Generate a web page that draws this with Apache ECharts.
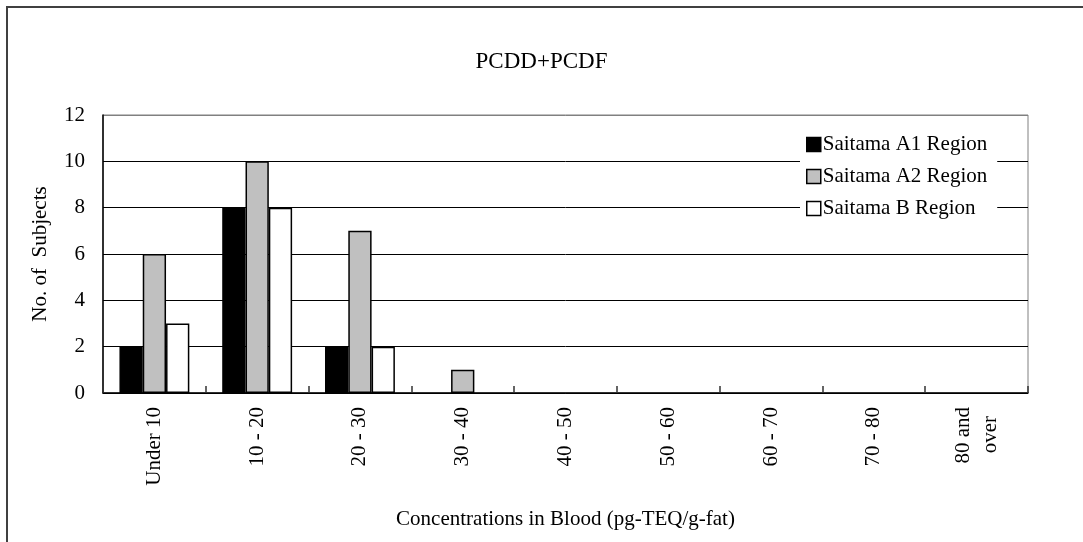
<!DOCTYPE html>
<html><head><meta charset="utf-8">
<script src="https://cdn.jsdelivr.net/npm/echarts@6/dist/echarts.min.js"></script>
<style>html,body{margin:0;padding:0;background:#fff;}#c{width:1083px;height:542px;}</style>
</head><body><div id="c"></div>
<script>
const categories = ['Under 10', '10 - 20', '20 - 30', '30 - 40', '40 - 50', '50 - 60', '60 - 70', '70 - 80', '80 and\nover'];
const seriesNames = ['Saitama A1 Region', 'Saitama A2 Region', 'Saitama B Region'];
const a1Values = [2, 8, 2, 0, 0, 0, 0, 0, 0];
const a2Values = [6, 10, 7, 1, 0, 0, 0, 0, 0];
const bValues = [3, 8, 2, 0, 0, 0, 0, 0, 0];
const yTicks = [0, 2, 4, 6, 8, 10, 12];

const FONT = '"Liberation Serif", "Times New Roman", serif';
const chart = echarts.init(document.getElementById('c'), null, {renderer: 'canvas'});
const fills = ['#000000', '#c0c0c0', '#ffffff'];
const values = [a1Values, a2Values, bValues];

chart.setOption({
  animation: false,
  backgroundColor: '#fff',
  textStyle: {fontFamily: FONT, color: '#000'},
  graphic: [{
    type: 'rect', silent: true, z: -1,
    shape: {x: 7, y: 7, width: 1200, height: 700},
    style: {fill: 'none', stroke: '#404040', lineWidth: 2}
  }],
  title: {
    text: 'PCDD+PCDF', left: 'center', top: 45,
    textStyle: {fontFamily: FONT, fontSize: 23, fontWeight: 'normal', color: '#000'}
  },
  legend: {
    orient: 'vertical', left: 800, top: 130,
    backgroundColor: '#fff', padding: [4, 10, 4, 6], itemGap: 11,
    itemWidth: 14, itemHeight: 14, itemStyle: {borderColor: '#000', borderWidth: 1.5},
    icon: 'rect',
    textStyle: {fontFamily: FONT, fontSize: 21, color: '#000', padding: [0, 0, 0, -3]},
    data: seriesNames
  },
  grid: {left: 103, right: 55, top: 115, bottom: 149, show: true, borderColor: '#808080', borderWidth: 1, containLabel: false},
  xAxis: {
    type: 'category', data: categories,
    name: 'Concentrations in Blood (pg-TEQ/g-fat)', nameLocation: 'middle', nameGap: 116,
    nameTextStyle: {fontFamily: FONT, fontSize: 21, color: '#000'},
    axisLine: {lineStyle: {color: '#000', width: 1.5}},
    axisTick: {show: true, inside: true, length: 7, alignWithLabel: false, lineStyle: {color: '#333', width: 1.5}},
    axisLabel: {
      rotate: 90, margin: 14, fontFamily: FONT, fontSize: 21, color: '#000', lineHeight: 27,
      interval: 0,
      formatter: function (v) { return v === '80 and\nover' ? '80 and\n{o|over}' : v; },
      rich: {o: {fontFamily: FONT, fontSize: 21, color: '#000', padding: [0, 9, 0, 0]}}
    }
  },
  yAxis: {
    type: 'value', min: 0, max: 12, interval: 2,
    name: 'No. of  Subjects', nameLocation: 'middle', nameGap: 52, nameRotate: 90,
    nameTextStyle: {fontFamily: FONT, fontSize: 21, color: '#000'},
    axisLine: {show: true, lineStyle: {color: '#000', width: 1.5}},
    axisTick: {show: false},
    axisLabel: {fontFamily: FONT, fontSize: 21, color: '#000', margin: 18,
      formatter: function (v) { return yTicks.indexOf(v) >= 0 ? String(v) : ''; }},
    splitLine: {show: true, lineStyle: {color: ['#000', '#000', '#000', '#000', '#000', '#000', '#808080'], width: 1}}
  },
  series: seriesNames.map(function (n, i) {
    return {
      name: n, type: 'bar',
      data: values[i].map(function (v) {
        return v === 0 ? {value: v, itemStyle: {borderWidth: 0}} : v;
      }),
      barGap: '0%', barCategoryGap: '32%',
      itemStyle: {color: fills[i], borderColor: '#000', borderWidth: 1.5}
    };
  })
});
</script></body></html>
